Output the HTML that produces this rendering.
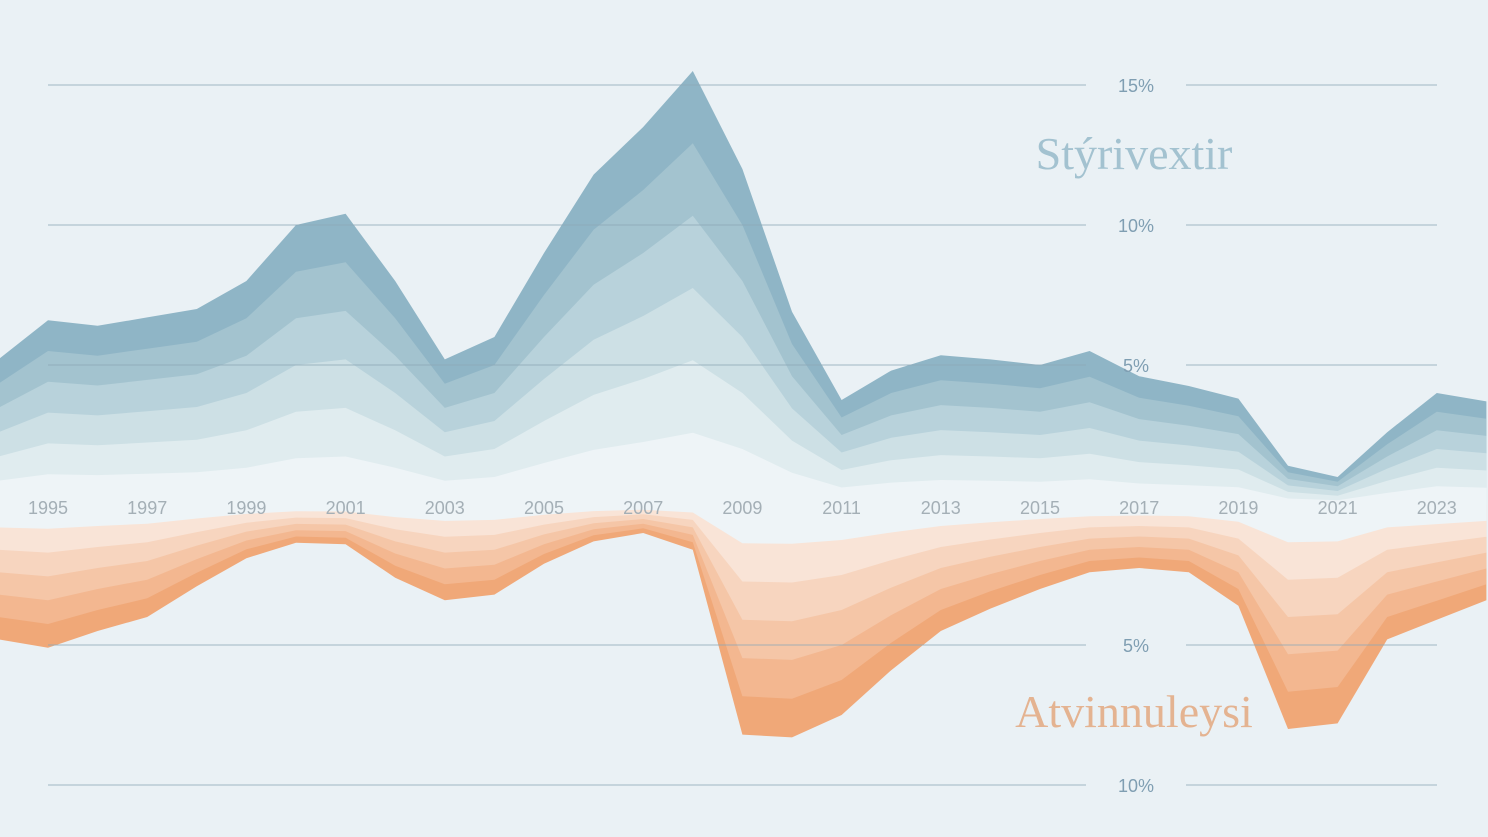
<!DOCTYPE html>
<html><head><meta charset="utf-8">
<style>
html,body{margin:0;padding:0;background:#eaf1f5;}
svg{display:block;font-family:"Liberation Sans",sans-serif;}
</style></head>
<body>
<svg id="chart" width="1488" height="837" viewBox="0 0 1488 837">
<rect width="1488" height="837" fill="#eaf1f5"/>
<g id="areas"></g>
<g id="grid"></g>
<g id="labels"></g>
<text x="1134" y="169" text-anchor="middle" font-family="Liberation Serif, serif" font-size="46" fill="#a3c2d0">Stýrivextir</text>
<text x="1134" y="727" text-anchor="middle" font-family="Liberation Serif, serif" font-size="46" fill="#e4b391">Atvinnuleysi</text>
</svg>
<script>
const years = [1994,1995,1996,1997,1998,1999,2000,2001,2002,2003,2004,2005,2006,2007,2008,2009,2010,2011,2012,2013,2014,2015,2016,2017,2018,2019,2020,2021,2022,2023,2024];
const policyRate = [5.2,6.6,6.4,6.7,7.0,8.0,10.0,10.4,8.0,5.2,6.0,9.0,11.8,13.5,15.5,12.0,6.9,3.75,4.8,5.35,5.2,5.0,5.5,4.6,4.25,3.8,1.4,1.0,2.6,4.0,3.7];
const unemployment = [4.8,5.1,4.5,4.0,2.9,1.9,1.35,1.4,2.6,3.4,3.2,2.1,1.3,1.0,1.6,8.2,8.3,7.5,5.9,4.5,3.7,3.0,2.4,2.25,2.4,3.6,8.0,7.8,4.8,4.1,3.4];
const topTicks = [5,10,15];
const bottomTicks = [5,10];
const yearLabels = [1995,1997,1999,2001,2003,2005,2007,2009,2011,2013,2015,2017,2019,2021,2023];

const NS='http://www.w3.org/2000/svg';
const x = y => 48 + (y-1995)*49.6;
const base = 505, pxPer = 28;
const yTop = v => base - v*pxPer;
const yBot = v => base + v*pxPer;
const blues = ['#8fb5c6','#a3c3cf','#b8d2db','#cde0e5','#e0ecef','#eef4f7'];
const oranges = ['#f0a878','#f3b790','#f5c6a7','#f7d5bf','#f9e4d7','#eef4f7'];
const areas = document.getElementById('areas');
function band(vals, yf, k, color, name){
  let d = 'M'+x(years[0])+','+base;
  vals.forEach((v,i)=>{ d += ' L'+x(years[i]).toFixed(1)+','+yf(v*k).toFixed(1); });
  d += ' L'+x(years[years.length-1])+','+base+' Z';
  const p = document.createElementNS(NS,'path');
  p.setAttribute('d',d); p.setAttribute('fill',color);
  
  
  areas.appendChild(p);
}
for(let j=0;j<6;j++){
  const k=(6-j)/6;
  band(policyRate,yTop,k,blues[j],'policy-rate-band-'+(j+1));
  band(unemployment,yBot,k,oranges[j],'unemployment-band-'+(j+1));
}
const grid = document.getElementById('grid');
const labels = document.getElementById('labels');
function tick(yy,label,name){
  [[48,1086],[1186,1437]].forEach(([a,b])=>{
    const l=document.createElementNS(NS,'line');
    l.setAttribute('x1',a);l.setAttribute('x2',b);l.setAttribute('y1',yy);l.setAttribute('y2',yy);
    l.setAttribute('stroke','#8ea8b7');l.setAttribute('stroke-width','1');l.setAttribute('opacity','0.8');
    
    
    grid.appendChild(l);
  });
  const t=document.createElementNS(NS,'text');
  t.setAttribute('x',1136);t.setAttribute('y',yy+7);t.setAttribute('text-anchor','middle');
  t.setAttribute('font-size','18');t.setAttribute('fill','#7f9eb2');
  t.textContent=label;
  
  
  labels.appendChild(t);
}
topTicks.forEach(v=>tick(yTop(v),v+'%','policy-tick-'+v));
bottomTicks.forEach(v=>tick(yBot(v),v+'%','unemployment-tick-'+v));
yearLabels.forEach(yr=>{
  const t=document.createElementNS(NS,'text');
  t.setAttribute('x',x(yr));t.setAttribute('y',514);t.setAttribute('text-anchor','middle');
  t.setAttribute('font-size','18');t.setAttribute('fill','#a4afb6');
  t.textContent=yr;
  
  
  labels.appendChild(t);
});
</script>
</body></html>
